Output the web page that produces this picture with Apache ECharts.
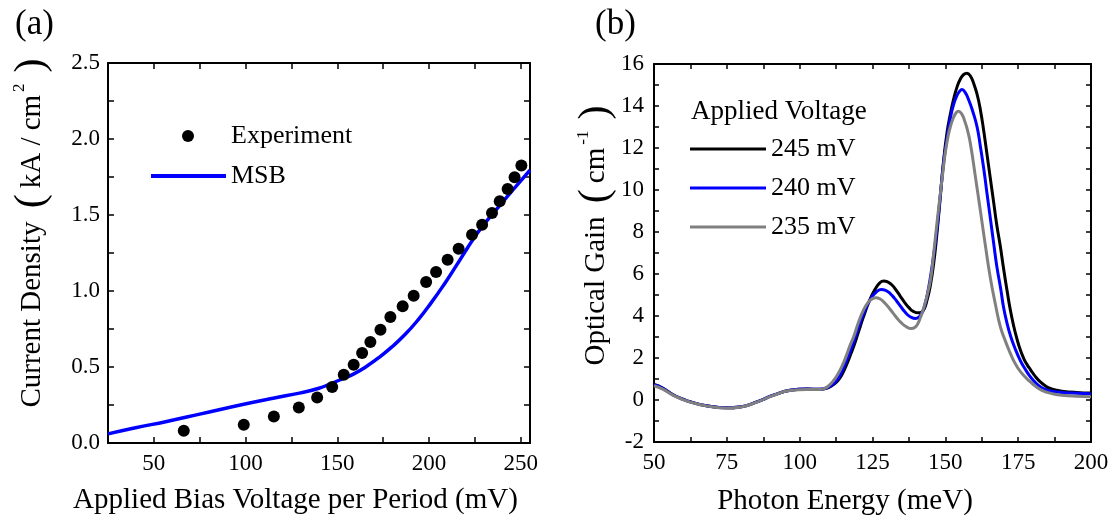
<!DOCTYPE html>
<html>
<head>
<meta charset="utf-8">
<script src="https://cdn.jsdelivr.net/npm/echarts@6/dist/echarts.min.js"></script>
<style>
  html, body { margin: 0; padding: 0; background: #fff; }
  #chart { width: 1119px; height: 527px; }
</style>
</head>
<body>
<div id="chart"></div>
<script>
// ---------- Panel (a) data ----------
const expVoltage = [66.3, 99.0, 115.4, 129.0, 139.0, 147.2, 153.5, 158.9, 163.5, 168.0, 173.5, 178.9, 185.6, 191.6, 198.4, 203.8, 210.1, 216.1, 223.4, 228.9, 234.3, 238.5, 242.8, 246.6, 250.3];
const expCurrent = [0.081, 0.12, 0.175, 0.234, 0.30, 0.368, 0.449, 0.515, 0.592, 0.664, 0.745, 0.829, 0.90, 0.969, 1.059, 1.125, 1.206, 1.278, 1.37, 1.436, 1.513, 1.59, 1.671, 1.748, 1.826];
const msbVoltage = [25, 40, 57, 75, 99, 115, 130, 140, 146, 152, 159, 166, 173, 180, 187, 194, 201, 208, 215, 221, 226, 231, 238, 245, 255];
const msbCurrent = [0.06, 0.10, 0.142, 0.19, 0.255, 0.295, 0.33, 0.36, 0.388, 0.418, 0.455, 0.505, 0.565, 0.635, 0.715, 0.81, 0.92, 1.04, 1.17, 1.285, 1.375, 1.455, 1.555, 1.655, 1.795];

// ---------- Panel (b) data ----------
const energy245 = [50, 53, 56.6, 60, 62.4, 68, 75, 79.5, 85.3, 91, 96.7, 102.5, 107, 108.5, 110, 111.5, 113, 114.5, 116, 117.3, 118.5, 120.2, 121.9, 124, 126, 127.5, 128.8, 130, 131.5, 133, 134.5, 136, 137.5, 139, 140.8, 141.8, 142.8, 143.8, 144.8, 146, 147.1, 148.3, 149.4, 150.6, 151.7, 152.8, 154, 155.2, 156.3, 157.4, 158.5, 159.8, 161, 162, 163.2, 164.3, 165.4, 166.6, 167.7, 168.9, 170, 171.2, 172.3, 173.5, 174.6, 175.7, 177, 178.2, 179.2, 181, 182.7, 184.5, 186, 188, 190, 195, 200];
const gain245   = [0.74, 0.57, 0.25, 0.04, -0.08, -0.27, -0.37, -0.33, -0.09, 0.23, 0.46, 0.52, 0.51, 0.53, 0.6, 0.72, 0.9, 1.2, 1.65, 2.1, 2.53, 3.25, 3.96, 4.75, 5.3, 5.58, 5.67, 5.64, 5.5, 5.25, 4.95, 4.65, 4.4, 4.22, 4.15, 4.18, 4.35, 4.8, 5.4, 6.5, 7.9, 9.7, 11.4, 12.75, 13.6, 14.3, 14.9, 15.3, 15.5, 15.56, 15.45, 15.05, 14.5, 13.85, 12.8, 11.7, 10.6, 9.4, 8.3, 7.3, 6.25, 5.2, 4.3, 3.5, 2.9, 2.4, 1.95, 1.65, 1.45, 1.1, 0.85, 0.66, 0.55, 0.47, 0.42, 0.36, 0.33];
const energy240 = [50, 53, 56.6, 60, 62.4, 68, 75, 79.5, 85.3, 91, 96.7, 102.5, 107, 108.5, 110, 111.5, 113, 114.5, 116, 117.3, 118.5, 120.2, 121.9, 123.5, 125, 126.5, 128, 129.5, 131, 132.5, 134, 135.5, 137, 138.5, 139.7, 140.8, 142, 143, 144, 145, 146, 147.1, 148.3, 149.4, 150.6, 151.7, 152.8, 154, 155, 155.7, 156.8, 158, 159.4, 160.9, 162, 163.2, 164.3, 165.5, 166.6, 167.7, 169, 170, 171.2, 172.5, 173.8, 175.7, 177.5, 179.2, 181, 182.7, 184.5, 186, 190, 195, 200];
const gain240   = [0.73, 0.56, 0.24, 0.03, -0.09, -0.27, -0.37, -0.33, -0.09, 0.23, 0.46, 0.52, 0.51, 0.54, 0.62, 0.76, 0.98, 1.35, 1.85, 2.3, 2.75, 3.45, 4.1, 4.6, 4.95, 5.17, 5.26, 5.22, 5.08, 4.85, 4.58, 4.3, 4.06, 3.92, 3.88, 3.93, 4.15, 4.55, 5.15, 5.95, 6.9, 8.1, 9.8, 11.3, 12.5, 13.4, 14.05, 14.5, 14.72, 14.78, 14.65, 14.3, 13.75, 13.0, 12.1, 11.0, 9.84, 8.6, 7.45, 6.34, 5.3, 4.4, 3.64, 3.0, 2.5, 1.89, 1.45, 1.1, 0.82, 0.62, 0.5, 0.43, 0.36, 0.32, 0.30];
const energy235 = [50, 53, 56.6, 60, 62.4, 68, 75, 79.5, 85.3, 91, 96.7, 102.5, 107, 108.5, 110, 111.5, 113, 114.5, 116, 117.3, 118.5, 120.2, 121.9, 123.5, 125, 126.2, 127.5, 129, 130.5, 132, 133.5, 135, 136.5, 138.3, 139.5, 140.5, 141.5, 142.5, 143.7, 145, 146, 147.1, 148.3, 149.2, 150, 151, 151.7, 152.8, 153.7, 154.5, 155.5, 156.5, 157.6, 158.6, 160.3, 162, 163.7, 165.4, 167.2, 168.9, 170.5, 172, 173.4, 175, 177, 179.2, 181, 183, 185, 187, 190, 195, 200];
const gain235   = [0.68, 0.52, 0.22, 0.02, -0.1, -0.28, -0.38, -0.34, -0.1, 0.22, 0.45, 0.5, 0.5, 0.55, 0.68, 0.9, 1.2, 1.6, 2.1, 2.6, 3.0, 3.7, 4.28, 4.65, 4.83, 4.87, 4.82, 4.65, 4.42, 4.15, 3.88, 3.66, 3.5, 3.4, 3.45, 3.62, 3.95, 4.35, 4.95, 5.8, 6.98, 8.4, 9.84, 10.9, 11.8, 12.6, 13.0, 13.45, 13.68, 13.75, 13.65, 13.35, 12.85, 12.22, 10.65, 9.04, 7.4, 5.86, 4.55, 3.48, 2.85, 2.32, 1.89, 1.5, 1.15, 0.86, 0.65, 0.47, 0.36, 0.29, 0.23, 0.18, 0.15];

const seriesNamesB = ['245 mV', '240 mV', '235 mV'];

const FONT = "'Liberation Serif', 'Times New Roman', 'DejaVu Serif', serif";
const zip = (xs, ys) => xs.map((x, i) => [x, ys[i]]);

function axisCommon(extra) {
  return Object.assign({
    type: 'value',
    axisLine: { show: true, onZero: false, lineStyle: { color: '#000', width: 2 } },
    axisTick: { show: true, inside: true, length: 6, lineStyle: { color: '#000', width: 1.5 } },
    splitLine: { show: false },
    axisLabel: { show: false },
  }, extra);
}

const labelStyle = { color: '#000', fontFamily: FONT, fontSize: 23 };
const tickB = { show: true, inside: true, length: 5, lineStyle: { color: '#000', width: 1.5 } };
const richY = {
  p: { fontFamily: FONT, fontSize: 42, color: '#000', padding: [0, 6] },
  sup: { fontFamily: FONT, fontSize: 17, color: '#000', verticalAlign: 'top', padding: [0, 5, 0, 3] }
};

const option = {
  animation: false,
  backgroundColor: '#fff',
  textStyle: { fontFamily: FONT },
  grid: [
    { left: 108, top: 63, width: 422, height: 380 },
    { left: 654, top: 64, width: 437, height: 378 }
  ],
  title: [
    { text: '(a)', left: 10, top: 2, textStyle: { fontFamily: FONT, fontSize: 35, fontWeight: 'normal', color: '#000' } },
    { text: '(b)', left: 590, top: 2, textStyle: { fontFamily: FONT, fontSize: 35, fontWeight: 'normal', color: '#000' } }
  ],
  graphic: [
    { type: 'text', left: 691, top: 98, style: { text: 'Applied Voltage', fontFamily: FONT, fontSize: 27, fill: '#000' } }
  ],
  legend: [
    { data: [{ name: 'Experiment', icon: 'circle' }], left: 182, top: 123, padding: 0, itemWidth: 76, itemHeight: 12,
      textStyle: { fontFamily: FONT, fontSize: 26, color: '#000' } },
    { data: [{ name: 'MSB', icon: 'rect' }], left: 151, top: 163, padding: 0, itemWidth: 75, itemHeight: 4,
      textStyle: { fontFamily: FONT, fontSize: 26, color: '#000' } },
    { data: seriesNamesB.map(n => ({ name: n, icon: 'rect' })), orient: 'vertical', left: 690, top: 136, padding: 0,
      itemWidth: 76, itemHeight: 3, itemGap: 13, textStyle: { fontFamily: FONT, fontSize: 26, color: '#000' } }
  ],
  xAxis: [
    axisCommon({ gridIndex: 0, position: 'bottom', min: 25, max: 255, interval: 25,
      axisLabel: Object.assign({ show: true, margin: 9, formatter: v => (v % 50 === 0 ? String(v) : '') }, labelStyle),
      name: 'Applied Bias Voltage per Period (mV)', nameLocation: 'middle', nameGap: 43,
      nameTextStyle: { fontFamily: FONT, fontSize: 29, color: '#000', padding: [0, 47, 0, 0] } }),
    axisCommon({ gridIndex: 0, position: 'top', min: 25, max: 255, interval: 25 }),
    axisCommon({ gridIndex: 1, position: 'bottom', min: 50, max: 200, interval: 12.5, axisTick: tickB,
      axisLabel: Object.assign({ show: true, margin: 9, formatter: v => (v % 25 === 0 ? String(v) : '') }, labelStyle),
      name: 'Photon Energy (meV)', nameLocation: 'middle', nameGap: 45,
      nameTextStyle: { fontFamily: FONT, fontSize: 29, color: '#000', padding: [0, 55, 0, 0] } }),
    axisCommon({ gridIndex: 1, position: 'top', min: 50, max: 200, interval: 12.5, axisTick: tickB })
  ],
  yAxis: [
    axisCommon({ gridIndex: 0, position: 'left', min: 0, max: 2.5, interval: 0.25,
      axisLabel: Object.assign({ show: true, margin: 8, formatter: v => (Math.abs(v * 2 - Math.round(v * 2)) < 1e-9 ? v.toFixed(1) : '') }, labelStyle),
      name: 'Current Density {p|(}kA / cm{sup|2}{p|)}', nameLocation: 'middle', nameGap: 55,
      nameTextStyle: { fontFamily: FONT, fontSize: 29, color: '#000', padding: [0, 0, 0, 46], rich: richY } }),
    axisCommon({ gridIndex: 0, position: 'right', min: 0, max: 2.5, interval: 0.25 }),
    axisCommon({ gridIndex: 1, position: 'left', min: -2, max: 16, interval: 1, axisTick: tickB,
      axisLabel: Object.assign({ show: true, margin: 10, formatter: v => (v % 2 === 0 ? String(v) : '') }, labelStyle),
      name: 'Optical Gain {p|(}cm{sup|-1}{p|)}', nameLocation: 'middle', nameGap: 33,
      nameTextStyle: { fontFamily: FONT, fontSize: 29, color: '#000', padding: [0, 0, 0, 41], rich: richY } }),
    axisCommon({ gridIndex: 1, position: 'right', min: -2, max: 16, interval: 1, axisTick: tickB })
  ],
  series: [
    { name: 'MSB', type: 'line', xAxisIndex: 0, yAxisIndex: 0, data: zip(msbVoltage, msbCurrent),
      smooth: true, showSymbol: false, color: '#0000ff', lineStyle: { color: '#0000ff', width: 3.5 }, z: 2 },
    { name: 'Experiment', type: 'scatter', xAxisIndex: 0, yAxisIndex: 0, data: zip(expVoltage, expCurrent),
      symbol: 'circle', symbolSize: 12, itemStyle: { color: '#000', opacity: 1 }, z: 3 },
    { name: seriesNamesB[0], type: 'line', xAxisIndex: 2, yAxisIndex: 2, data: zip(energy245, gain245),
      smooth: true, showSymbol: false, color: '#000000', lineStyle: { color: '#000000', width: 3 }, z: 2 },
    { name: seriesNamesB[1], type: 'line', xAxisIndex: 2, yAxisIndex: 2, data: zip(energy240, gain240),
      smooth: true, showSymbol: false, color: '#0000ff', lineStyle: { color: '#0000ff', width: 3 }, z: 3 },
    { name: seriesNamesB[2], type: 'line', xAxisIndex: 2, yAxisIndex: 2, data: zip(energy235, gain235),
      smooth: true, showSymbol: false, color: '#808080', lineStyle: { color: '#808080', width: 3 }, z: 4 }
  ]
};

const chart = echarts.init(document.getElementById('chart'), null, { renderer: 'canvas' });
chart.setOption(option);
</script>
</body>
</html>
